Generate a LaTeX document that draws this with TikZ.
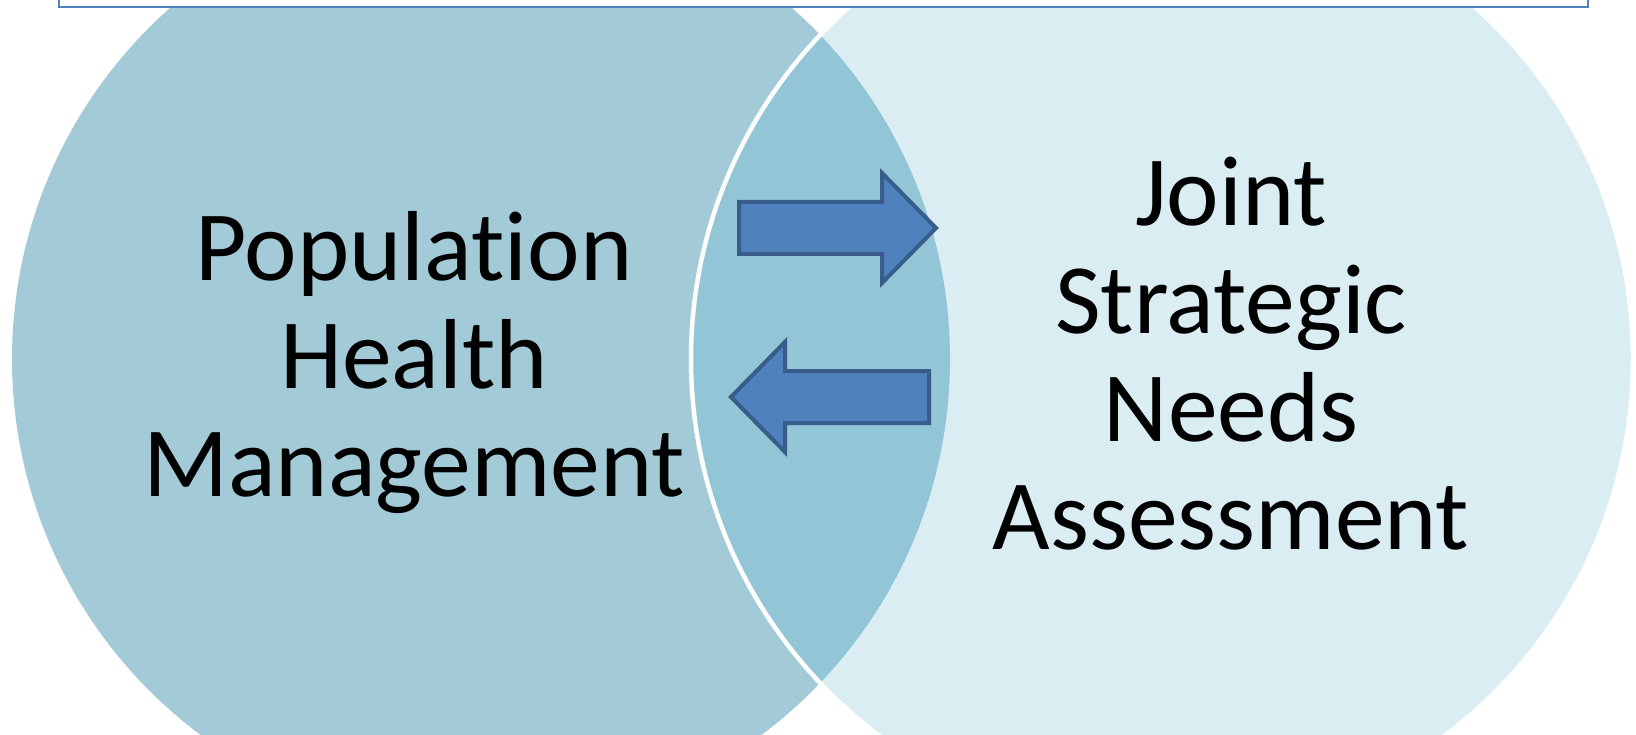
\documentclass[tikz,border=0pt]{standalone}
\usepackage{fontspec}
\setmainfont{Carlito}[Ligatures=NoCommon]
\definecolor{leftfill}{HTML}{A3CBD7}
\definecolor{overlapfill}{HTML}{92C5D5}
\definecolor{rightfill}{HTML}{DAEDF3}
\definecolor{arrowfill}{HTML}{4F81BD}
\definecolor{arrowline}{HTML}{385D8A}
\definecolor{frameline}{HTML}{4F81BD}
\begin{document}
\begin{tikzpicture}[x=1pt,y=-1pt,
  labeltext/.style={align=center, font=\fontsize{99.5}{108}\selectfont, inner sep=0pt, anchor=base},
  arrowshape/.style={fill=arrowfill, draw=arrowline, line width=4pt, line join=miter},
]
\useasboundingbox (0,0) rectangle (1636,735);
% circles
\fill[leftfill] (481,359) circle[radius=469pt];
\fill[rightfill] (1162,359) circle[radius=471pt];
\begin{scope}
  \clip (481,359) circle[radius=469pt];
  \fill[overlapfill] (1162,359) circle[radius=471pt];
\end{scope}
\draw[white, line width=4.5pt] (1162,359) circle[radius=471pt];
% frame at the top
\draw[frameline, fill=white, line width=2pt] (59,-20) rectangle (1588,6.7);
% texts (anchor base = baseline of the last line)
\node[labeltext] (phm) at (414,496) {Population\\Health\\Management};
\node[labeltext] (jsna) at (1231,549) {Joint\\Strategic\\Needs\\Assessment};
% arrows
\draw[arrowshape] (739,202) -- (882,202) -- (882,173) -- (936,228) -- (882,283) -- (882,254) -- (739,254) -- cycle;
\draw[arrowshape] (731,397) -- (785,342) -- (785,371) -- (929,371) -- (929,423) -- (785,423) -- (785,452) -- cycle;
\end{tikzpicture}
\end{document}
